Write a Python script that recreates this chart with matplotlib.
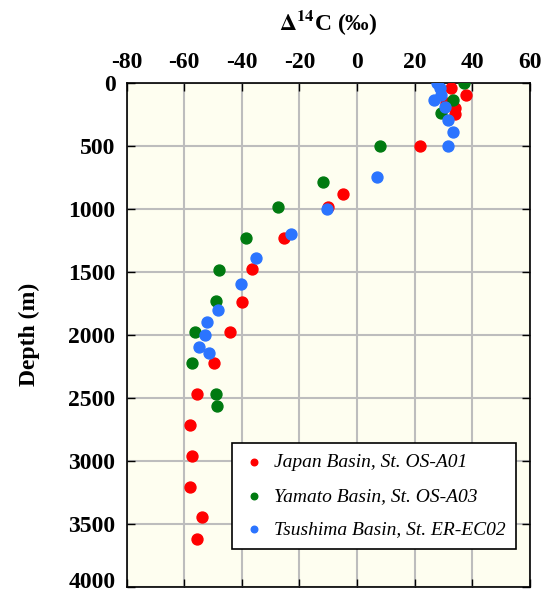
import matplotlib
matplotlib.use('Agg')
import matplotlib.pyplot as plt
from matplotlib.transforms import ScaledTranslation

# Daten: Delta14C (permil) und Tiefe (m)
japan_c14 = [32.5, 37.8, 30.8, 34.0, 34.0, 21.9, -4.8, -10.0, -25.2, -36.4,
             -39.8, -44.2, -49.6, -55.4, -57.8, -57.3, -57.8, -53.9, -55.4]
japan_depth = [40, 100, 160, 200, 250, 500, 885, 985, 1235, 1480,
               1740, 1975, 2225, 2470, 2715, 2960, 3205, 3445, 3620]

yamato_c14 = [37.2, 33.4, 29.0, 8.0, -11.7, -27.6, -38.7, -48.0, -48.9,
              -56.4, -57.3, -48.9, -48.6]
yamato_depth = [5, 140, 245, 500, 790, 990, 1235, 1490, 1730,
                1980, 2220, 2470, 2565]

tsushima_c14 = [27.9, 28.8, 29.1, 26.8, 30.5, 31.5, 33.3, 31.4, 7.0, -10.5,
                -22.8, -34.9, -40.2, -48.1, -51.9, -52.8, -54.9, -51.4]
tsushima_depth = [5, 45, 95, 135, 195, 295, 395, 500, 745, 1000,
                  1200, 1395, 1600, 1800, 1895, 2000, 2100, 2145]

x_ticks = [-80, -60, -40, -20, 0, 20, 40, 60]
y_ticks = [0, 500, 1000, 1500, 2000, 2500, 3000, 3500, 4000]

plt.rcParams['font.family'] = ['Liberation Serif', 'DejaVu Serif']
plt.rcParams['mathtext.fontset'] = 'stix'
plt.rcParams['axes.unicode_minus'] = False

fig = plt.figure(figsize=(5.43, 5.92), dpi=100)
ax = fig.add_axes([0.233, 0.0085, 0.743, 0.852])
ax.set_facecolor('#fefef0')

ax.scatter(japan_c14, japan_depth, s=62, color='#ff0000', zorder=3,
           label='Japan Basin, St. OS-A01')
ax.scatter(yamato_c14, yamato_depth, s=62, color='#007a10', zorder=3,
           label='Yamato Basin, St. OS-A03')
ax.scatter(tsushima_c14, tsushima_depth, s=62, color='#2b74ff', zorder=3,
           label='Tsushima Basin, St. ER-EC02')

ax.set_xlim(-80, 60)
ax.set_ylim(4000, 0)
ax.set_xticks(x_ticks)
ax.set_yticks(y_ticks)
ax.xaxis.tick_top()
ax.xaxis.set_label_position('top')
ax.tick_params(direction='in', top=True, bottom=True, left=True, right=True,
               length=6, width=1, labelsize=17)
ax.tick_params(axis='x', pad=7)
ax.tick_params(axis='y', pad=8)
for lab in ax.get_xticklabels() + ax.get_yticklabels():
    lab.set_fontweight('bold')

# unterstes Label etwas anheben, damit es nicht abgeschnitten wird
last = ax.yaxis.get_major_ticks()[-1].label1
last.set_transform(last.get_transform() + ScaledTranslation(0, 5 / 72, fig.dpi_scale_trans))

ax.grid(True, color='#bdbdbd', linewidth=1.5, zorder=0)
ax.set_axisbelow(True)
for sp in ax.spines.values():
    sp.set_linewidth(1.2)

ax.set_xlabel(r'$\mathbf{\Delta^{14}}$C (‰)', fontsize=17, fontweight='bold', labelpad=16)
ax.set_ylabel('Depth (m)', fontsize=17, fontweight='bold', labelpad=20)

leg = ax.legend(loc='lower right', bbox_to_anchor=(0.965, 0.075), borderaxespad=0,
                fancybox=False, edgecolor='black', framealpha=1,
                prop={'style': 'italic', 'size': 14}, markerscale=0.6,
                handletextpad=0.4, labelspacing=0.82, borderpad=0.55,
                handlelength=1.2)
leg.get_frame().set_linewidth(1.2)

fig.savefig('out.png', dpi=100)
